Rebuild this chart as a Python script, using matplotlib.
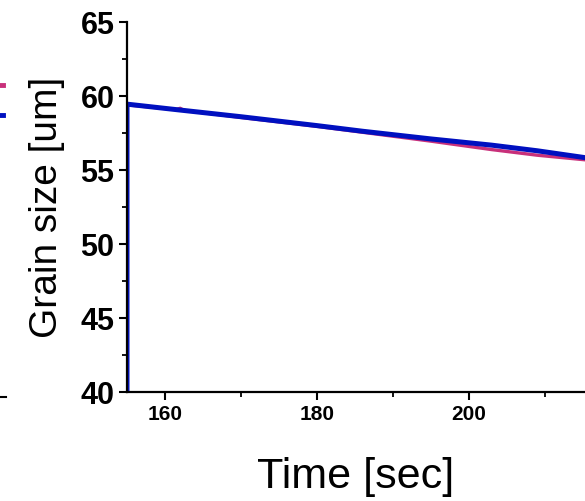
import matplotlib
matplotlib.use("Agg")
import matplotlib.pyplot as plt
from matplotlib.lines import Line2D

plt.rcParams['font.family'] = ['Liberation Sans', 'DejaVu Sans']

# grain size vs time, two runs
time_blue = [155, 155, 162, 170, 180, 186, 195, 203, 209, 215.5]
size_blue = [0, 59.45, 59.05, 58.6, 58.0, 57.62, 57.1, 56.68, 56.3, 55.82]
time_red = [155, 155, 161.5, 162, 162.5, 170, 180, 186, 195, 203, 209, 215.5]
size_red = [0, 59.4, 59.08, 59.17, 59.03, 58.55, 57.95, 57.55, 56.95, 56.38, 56.0, 55.68]

x_ticks = [160, 180, 200]
y_ticks = [40, 45, 50, 55, 60, 65]

fig = plt.figure(figsize=(5.85, 5.01), dpi=100)
ax = fig.add_axes([127 / 585, 1 - 392 / 501, 1 - 127 / 585, (392 - 22) / 501])

ax.plot(time_red, size_red, color='#c8307a', lw=2.4, solid_capstyle='butt')
ax.plot(time_blue, size_blue, color='#0010c0', lw=3.6, solid_capstyle='butt')

ax.set_xlim(155, 215.3)
ax.set_ylim(40, 65)
ax.set_xticks(x_ticks)
ax.set_xticks([170, 190, 210], minor=True)
ax.set_yticks(y_ticks)
ax.set_yticks([42.5, 47.5, 52.5, 57.5, 62.5], minor=True)

for s in ['top', 'right']:
    ax.spines[s].set_visible(False)
for s in ['left', 'bottom']:
    ax.spines[s].set_linewidth(1.6)

ax.tick_params(axis='both', which='major', direction='out', length=6, width=1.5, pad=3)
ax.tick_params(axis='both', which='minor', direction='out', length=3.5, width=1.3)
for lab in ax.get_yticklabels():
    lab.set_fontsize(22)
    lab.set_fontweight('bold')
for lab in ax.get_xticklabels():
    lab.set_fontsize(15)
    lab.set_fontweight('bold')

ax.set_ylabel('Grain size [um]', fontsize=28, labelpad=11)
ax.set_xlabel('Time [sec]', fontsize=31, labelpad=24)

# fragments of the neighbouring panel cut off at the left edge
fig.add_artist(Line2D([0, 3 / 585], [1 - 85 / 501] * 2, color='#c8307a', lw=3.5))
fig.add_artist(Line2D([0, 3 / 585], [1 - 115 / 501] * 2, color='#0010c0', lw=3.5))
fig.add_artist(Line2D([0, 6 / 585], [1 - 397 / 501] * 2, color='black', lw=1.5))

fig.savefig('out.png', dpi=100)
